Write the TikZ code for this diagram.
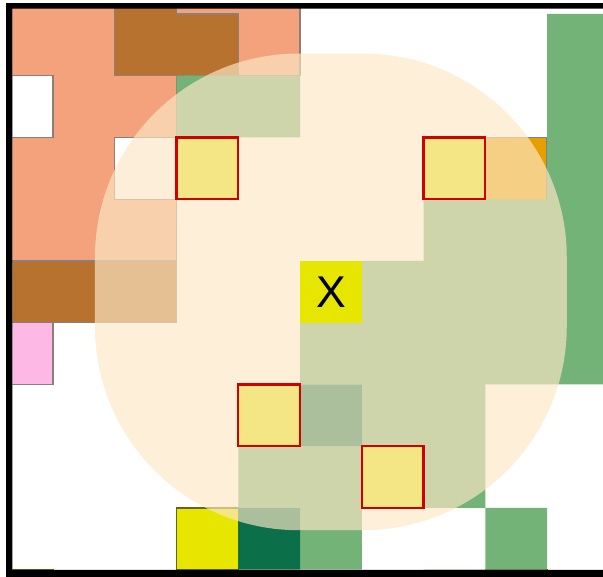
\documentclass[tikz,border=0pt]{standalone}
\usepackage{fontspec}
\setsansfont{Liberation Sans}
\definecolor{salmon}{HTML}{F4A27B}
\definecolor{brown}{HTML}{B8722F}
\definecolor{leaf}{HTML}{74B377}
\definecolor{pine}{HTML}{0B704A}
\definecolor{lemon}{HTML}{E6E600}
\definecolor{pink}{HTML}{FDB8E6}
\definecolor{amber}{HTML}{E69F00}
\definecolor{cream}{HTML}{FCE7C5}
\definecolor{edge}{HTML}{8C7F78}
\definecolor{target}{HTML}{D00000}
\tikzset{
  region/.style={draw=edge, line width=0.5pt},
  reach/.style={fill=cream, fill opacity=0.67, rounded corners=3.3cm},
  goal/.style={draw=target, line width=1.1pt},
  agent/.style={
    fill=lemon, minimum size=1cm, inner sep=0pt,
    font=\sffamily\fontsize{20.5}{24}\selectfont
  }
}

\begin{document}
\begin{tikzpicture}
  \useasboundingbox (0.1417,-9.117) rectangle (9.907,0.2267);
  \begin{scope}
    \clip (0.344,0.089) rectangle (9.907,-9.004);
    \filldraw[region, fill=salmon] (0,1) -- (5,1) -- (5,-1) -- (3,-1) -- (3,-4) -- (0,-4) -- cycle;
    \filldraw[region, fill=brown] (2,1) -- (3,1) -- (3,0) -- (4,0) -- (4,-1) -- (2,-1) -- cycle;
    \filldraw[region, fill=brown] (0,-4) rectangle (3,-5);
    \filldraw[region, fill=white] (0,-1) rectangle (1,-2) (2,-2) rectangle (3,-3);
    \filldraw[region, fill=pink] (0,-5) rectangle (1,-6);
    \filldraw[region, fill=amber] (8,-2) rectangle (9,-3);
    \filldraw[region, draw=lemon!45!black, fill=lemon] (3,-8) rectangle (4,-9)
      (0,-9) rectangle (1,-10) (8,-9) rectangle (9,-10);
    \fill[lemon] (3,-2) rectangle (4,-3) (7,-2) rectangle (8,-3)
      (4,-6) rectangle (5,-7) (6,-7) rectangle (7,-8);
    \fill[leaf] (9,0) rectangle (10,-6) (3,-1) rectangle (5,-2)
      (7,-3) rectangle (9,-4) (6,-4) rectangle (9,-5) (5,-5) rectangle (9,-6)
      (6,-6) rectangle (8,-7) (4,-7) rectangle (6,-8) (7,-7) rectangle (8,-8)
      (5,-8) rectangle (6,-9) (8,-8) rectangle (9,-9) (7,-9) rectangle (8,-10);
    \fill[pine] (5,-6) rectangle (6,-7) (4,-8) rectangle (5,-9);
  \end{scope}
  \fill[reach] (1.68,-0.64) rectangle (9.32,-8.36);
  \draw[goal] (3,-2) rectangle (4,-3) (7,-2) rectangle (8,-3)
    (4,-6) rectangle (5,-7) (6,-7) rectangle (7,-8);
  \node[agent] (agent) at (5.5,-4.5) {X};
  \fill[black] (0.239,0.178) rectangle (0.344,-9.117)
    (0.239,0.178) rectangle (9.907,0.089)
    (0.239,-9.004) rectangle (9.907,-9.117);
\end{tikzpicture}
\end{document}
